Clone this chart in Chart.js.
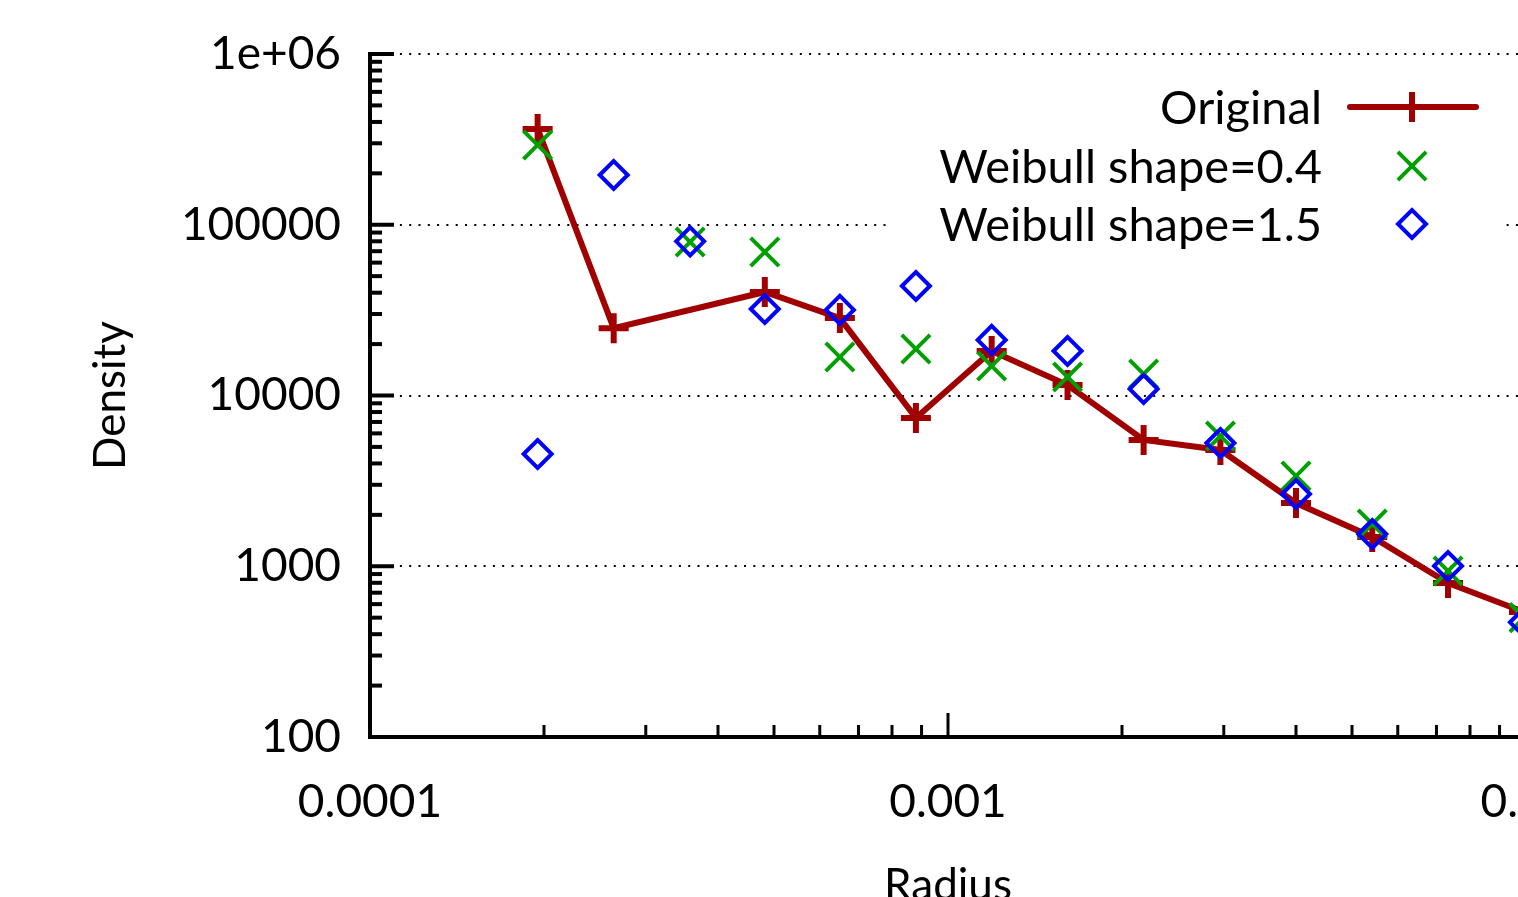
<!DOCTYPE html>
<html>
<head>
<meta charset="utf-8">
<title>Density vs Radius</title>
<script src="https://cdn.jsdelivr.net/npm/chart.js@4.4.0/dist/chart.umd.min.js"></script>
<style>
  html, body { margin: 0; padding: 0; background: #fff; overflow: hidden; }
  #marco { width: 1518px; height: 897px; overflow: hidden; }
</style>
</head>
<body>
<div id="marco"><canvas id="grafica" width="1620" height="930"></canvas></div>
<script>
// Datos

const radios = [1.95e-4, 2.64e-4, 3.58e-4, 4.82e-4, 6.50e-4, 8.80e-4, 1.19e-3, 1.61e-3, 2.18e-3, 2.96e-3, 4.00e-3, 5.42e-3, 7.33e-3, 9.92e-3];
const original = [364000, 24800, null, 40400, 28400, 7390, 18200, 11520, 5490, 4800, 2346, 1484, 797, 540];
const weibull04 = [293000, null, 79300, 69200, 16800, 18720, 14880, 12840, 13360, 5790, 3378, 1768, 938, 500];
const weibull15 = [4545, 195600, 80000, 32100, 31700, 43800, 21150, 18230, 10920, 5270, 2650, 1545, 1003, 470];

// Ticks de los ejes

const ticksX = [0.0001, 0.001, 0.01];
const etiquetasX = ['0.0001', '0.001', '0.01'];
const ticksY = [100, 1000, 10000, 100000, 1000000];
const etiquetasY = ['100', '1000', '10000', '100000', '1e+06'];
const menores = [2, 3, 4, 5, 6, 7, 8, 9];

const fuente = 'Lato, "Open Sans", sans-serif';

function listaTicks(mayores) {
  let lista = [];
  mayores.forEach((v, i) => {
    lista.push({ value: v, major: true });
    if (i < mayores.length - 1) {
      menores.forEach(m => lista.push({ value: v * m, major: false }));
    }
  });
  return lista;
}

function etiqueta(mayores, textos) {
  return function (value) {
    let i = mayores.findIndex(v => Math.abs(v - value) / v < 1e-9);
    return i >= 0 ? textos[i] : '';
  };
}

function puntos(valores) {
  return radios.map((r, i) => ({ x: r, y: valores[i] }));
}

// Grid punteado y marcas hacia dentro

const marcas = {
  id: 'marcas',
  beforeDatasetsDraw(chart) {
    const { ctx, chartArea, scales } = chart;
    ctx.save();
    ctx.strokeStyle = '#000';
    ctx.lineWidth = 2;
    ctx.setLineDash([2, 7.3]);
    scales.y.ticks.forEach(t => {
      if (!t.major) return;
      let y = Math.round(scales.y.getPixelForValue(t.value));
      ctx.beginPath();
      ctx.moveTo(chartArea.left + 2, y);
      ctx.lineTo(chartArea.right, y);
      ctx.stroke();
    });
    ctx.restore();
  },
  afterDraw(chart) {
    const { ctx, chartArea, scales } = chart;
    ctx.save();
    ctx.strokeStyle = '#000';
    ctx.lineWidth = 4;
    scales.y.ticks.forEach(t => {
      let y = scales.y.getPixelForValue(t.value);
      ctx.beginPath();
      ctx.moveTo(chartArea.left, y);
      ctx.lineTo(chartArea.left + (t.major ? 24 : 12), y);
      ctx.stroke();
    });
    ctx.lineWidth = 3;
    scales.x.ticks.forEach(t => {
      let x = scales.x.getPixelForValue(t.value);
      ctx.beginPath();
      ctx.moveTo(x, chartArea.bottom);
      ctx.lineTo(x, chartArea.bottom - (t.major ? 24 : 12));
      ctx.stroke();
    });
    ctx.restore();
  }
};

// Leyenda estilo gnuplot

const leyenda = {
  id: 'leyenda',
  afterDraw(chart) {
    const ctx = chart.ctx;
    const filas = [107, 166, 224];
    ctx.save();
    ctx.fillStyle = '#fff';
    ctx.fillRect(888, 70, 612, 185);
    ctx.font = '47px ' + fuente;
    ctx.textAlign = 'right';
    ctx.textBaseline = 'alphabetic';
    chart.data.datasets.forEach((ds, i) => {
      let y = filas[i];
      ctx.fillStyle = '#000';
      ctx.fillText(ds.label, 1322, y + 17);
      if (ds.showLine !== false) {
        ctx.strokeStyle = ds.borderColor;
        ctx.lineWidth = ds.borderWidth;
        ctx.lineCap = 'round';
        ctx.beginPath();
        ctx.moveTo(1350, y);
        ctx.lineTo(1476, y);
        ctx.stroke();
      }
      ctx.strokeStyle = ds.pointBorderColor;
      ctx.fillStyle = 'rgba(0,0,0,0)';
      ctx.lineWidth = ds.pointBorderWidth;
      ctx.lineCap = 'butt';
      Chart.helpers.drawPoint(ctx, {
        pointStyle: ds.pointStyle,
        radius: ds.pointRadius,
        rotation: 0,
        borderWidth: ds.pointBorderWidth
      }, 1412, y);
    });
    ctx.restore();
  }
};

const data = {
  datasets: [{
    label: 'Original',
    data: puntos(original),
    borderColor: '#a00000',
    borderWidth: 6,
    pointStyle: 'cross',
    pointRadius: 15,
    pointBorderWidth: 6,
    pointBorderColor: '#a00000',
    pointBackgroundColor: '#a00000',
    spanGaps: true,
    tension: 0,
    order: 3
  }, {
    label: 'Weibull shape=0.4',
    data: puntos(weibull04),
    showLine: false,
    pointStyle: 'crossRot',
    pointRadius: 20,
    pointBorderWidth: 4,
    pointBorderColor: '#00a000',
    pointBackgroundColor: 'rgba(0,0,0,0)',
    order: 2
  }, {
    label: 'Weibull shape=1.5',
    data: puntos(weibull15),
    showLine: false,
    pointStyle: 'rectRot',
    pointRadius: 14,
    pointBorderWidth: 4,
    pointBorderColor: '#0000ff',
    pointBackgroundColor: 'rgba(0,0,0,0)',
    order: 1
  }]
};

const config = {
  type: 'line',
  data,
  options: {
    responsive: false,
    animation: false,
    events: [],
    layout: { padding: { top: 54, right: 94, left: 0, bottom: 0 } },
    plugins: {
      legend: { display: false },
      tooltip: { enabled: false }
    },
    scales: {
      x: {
        type: 'logarithmic',
        min: 0.0001,
        max: 0.01,
        afterBuildTicks: s => { s.ticks = listaTicks(ticksX); },
        afterFit: s => { s.height = 193; },
        grid: { display: false },
        border: { display: true, color: '#000', width: 4 },
        ticks: {
          autoSkip: false,
          maxRotation: 0,
          padding: 30,
          color: '#000',
          font: { family: fuente, size: 46 },
          callback: etiqueta(ticksX, etiquetasX)
        },
        title: {
          display: true,
          text: 'Radius',
          color: '#000',
          font: { family: fuente, size: 44 },
          padding: { top: 0, bottom: 18 }
        }
      },
      y: {
        type: 'logarithmic',
        min: 100,
        max: 1000000,
        afterBuildTicks: s => { s.ticks = listaTicks(ticksY); },
        afterFit: s => { s.width = 370; },
        grid: { display: false },
        border: { display: true, color: '#000', width: 4 },
        ticks: {
          autoSkip: false,
          padding: 21,
          color: '#000',
          font: { family: fuente, size: 46 },
          callback: etiqueta(ticksY, etiquetasY)
        },
        title: {
          display: true,
          text: 'Density',
          color: '#000',
          font: { family: fuente, size: 44 },
          padding: { top: 84, bottom: 0 }
        }
      }
    }
  },
  plugins: [marcas, leyenda]
};

var densidadChart = new Chart(
  document.getElementById('grafica'),
  config
);
</script>
</body>
</html>
